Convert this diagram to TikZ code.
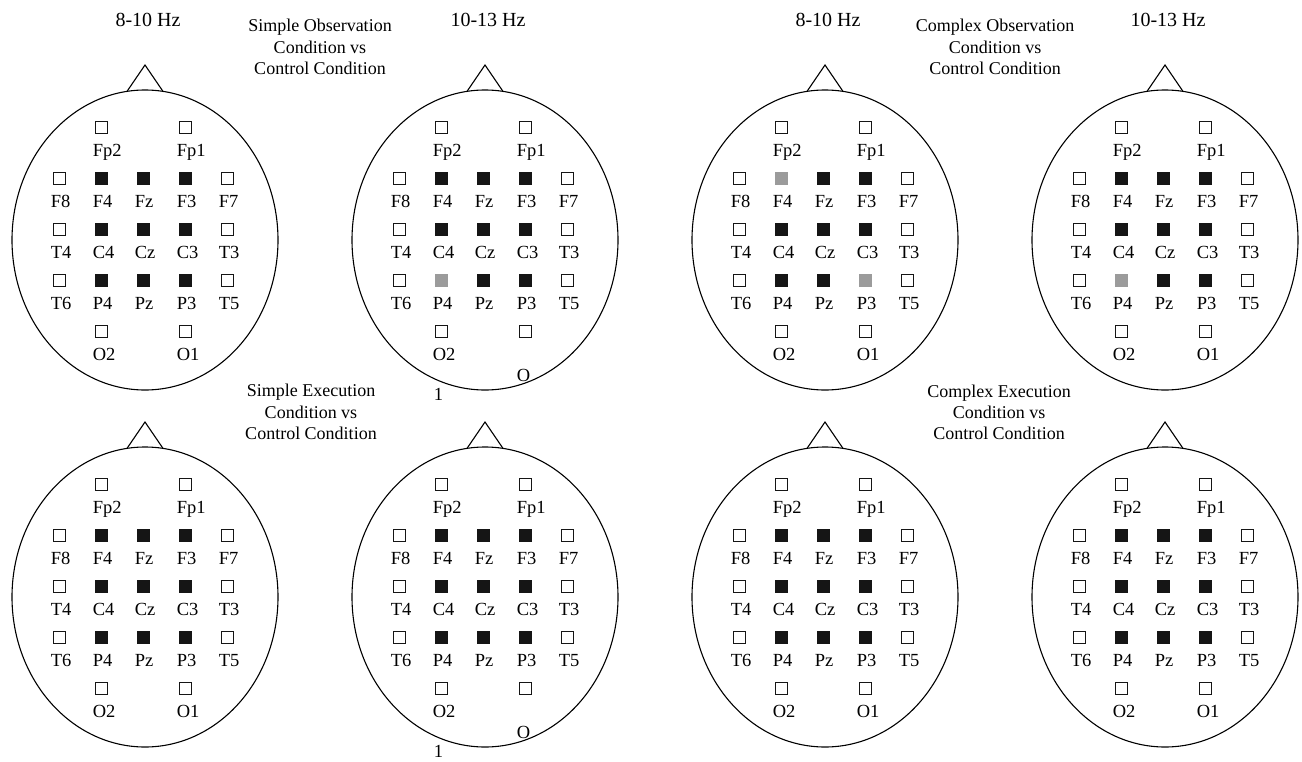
\documentclass[tikz,border=0pt]{standalone}
\usepackage{fontspec}
\setmainfont{Liberation Serif}
\usetikzlibrary{positioning}
\definecolor{ink}{HTML}{151515}
\definecolor{dim}{HTML}{9B9B9B}
\tikzset{scalp/.style={line width=1.1pt},
  eoff/.style={draw=ink,line width=.8pt,fill=white,minimum size=12pt,inner sep=0pt},
  eon/.style={eoff,fill=ink},
  egray/.style={eoff,draw=dim,fill=dim},
  lbl/.style={inner sep=0pt,font=\fontsize{18.5}{20}\selectfont},
  band/.style={inner sep=0pt,font=\fontsize{20}{24}\selectfont},
  cond/.style={inner sep=0pt,align=center,font=\fontsize{18}{21.2}\selectfont},
  % electrodes that come out grey
  bP4/.style={egray},cF4/.style={egray},cP3/.style={egray},dP4/.style={egray}}
\begin{document}
\begin{tikzpicture}[x=1pt,y=-1pt]
\useasboundingbox (0,0) rectangle (1302,761);
\foreach \h/\x/\y/\ot/\od in {a/145/240/O1/10.3pt,b/485/240/O/30.9pt,c/825/240/O1/10.3pt,d/1165/240/O1/10.3pt,
  e/145/597/O1/10.3pt,f/485/597/O/30.9pt,g/825/597/O1/10.3pt,h/1165/597/O1/10.3pt}{
  \draw[scalp] (\x,\y) ellipse [x radius=133,y radius=150];
  \coordinate (\h nl) at (\x-18,\y-148.6);
  \coordinate (\h tip) at (\x,\y-175);
  \coordinate (\h nr) at (\x+18,\y-148.6);
  \draw[scalp] (\h nl)--(\h tip)--(\h nr);
  \foreach \n/\c/\r/\s in {Fp2/1/0/off,Fp1/3/0/off,F8/0/1/off,F4/1/1/on,Fz/2/1/on,F3/3/1/on,F7/4/1/off,
    T4/0/2/off,C4/1/2/on,Cz/2/2/on,C3/3/2/on,T3/4/2/off,T6/0/3/off,P4/1/3/on,Pz/2/3/on,P3/3/3/on,T5/4/3/off,O2/1/4/off}{
    \node[e\s,\h\n/.try] (\h\n) at (\x-86+42*\c,\y-112.8+51.1*\r) {};
    \node[lbl,below right=10.3pt and -2pt of \h\n.south west] (\h\n l) {\n};}
  \node[eoff] (\h O1) at (\x+40,\y+91.5) {};
  \node[lbl,below right=\od and -2pt of \h O1.south west] (\h O1l) {\ot};}
\foreach \h in {b,f}{\node[lbl,below right=50.5pt and -1pt of \h O2.south west] (\h one) {1};}
\foreach \h/\t in {a/8-10 Hz,b/10-13 Hz,c/8-10 Hz,d/10-13 Hz}{\node[band,above=38pt of \h tip,xshift=3pt] (\h band) {\t};}
\node[cond,anchor=north] (sobs) at (320,19.2) {Simple Observation\\Condition vs\\Control Condition};
\node[cond,anchor=north] (cobs) at (995,19.2) {Complex Observation\\Condition vs\\Control Condition};
\node[cond,anchor=north] (sexe) at (311,384.2) {Simple Execution\\Condition vs\\Control Condition};
\node[cond,anchor=north] (cexe) at (999,384.5) {Complex Execution\\Condition vs\\Control Condition};
\end{tikzpicture}
\end{document}
